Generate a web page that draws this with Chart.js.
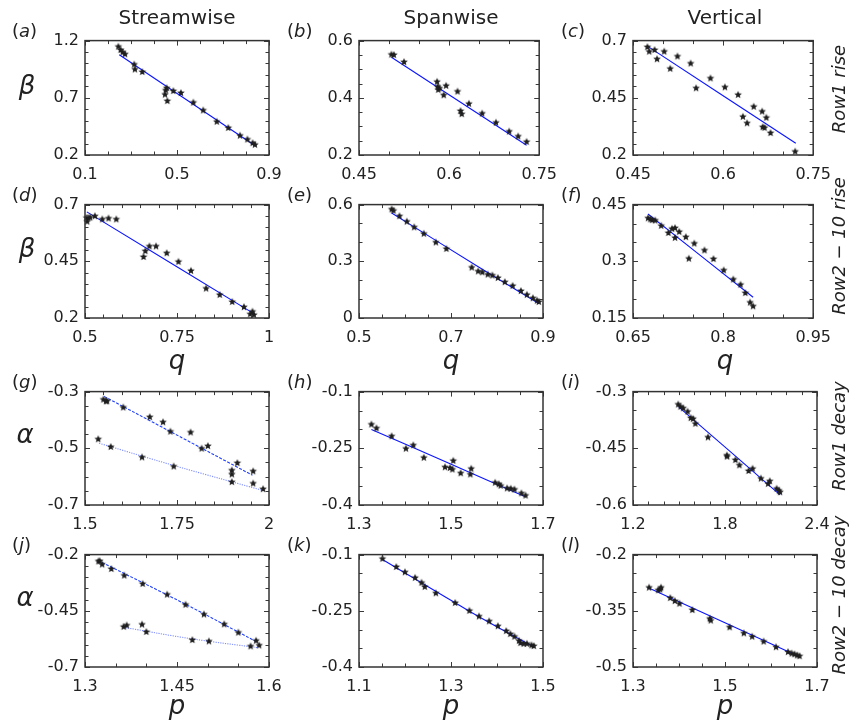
<!DOCTYPE html>
<html>
<head>
<meta charset="utf-8">
<script src="https://cdn.jsdelivr.net/npm/chart.js@4.4.1/dist/chart.umd.min.js"></script>
<style>
  body { margin: 0; background: #fff; }
  #fig { position: relative; width: 850px; height: 724px; font-family: 'DejaVu Sans', sans-serif; color: #222; }
  #fig canvas { position: absolute; }
  .t { position: absolute; white-space: nowrap; line-height: 1; transform: translate(-50%, -50%); }
  .title { font-size: 20px; }
  .lab { font-size: 18px; transform: none; }
  .lab i { font-style: oblique; }
  .sym { font-size: 26px; font-style: oblique; }
  .row { font-size: 18px; font-style: oblique; transform: translate(-50%, -50%) rotate(-90deg); }
</style>
</head>
<body>
<div id="fig"></div>
<script>
// ---- data ----
// (a) streamwise, row1 rise
const aQ    = [0.245, 0.255, 0.264, 0.274, 0.314, 0.317, 0.349, 0.448, 0.451, 0.455, 0.458, 0.484, 0.517, 0.571, 0.614, 0.673, 0.723, 0.774, 0.806, 0.829, 0.839];
const aBeta = [1.147, 1.118, 1.098, 1.081, 0.991, 0.948, 0.926, 0.728, 0.765, 0.785, 0.672, 0.759, 0.742, 0.658, 0.590, 0.491, 0.437, 0.369, 0.336, 0.304, 0.290];
const aFitQ = [0.249, 0.843];
const aFitBeta = [1.076, 0.276];
const aXTicks = [0.1, 0.5, 0.9];
const aYTicks = [0.2, 0.7, 1.2];

// (b) spanwise, row1 rise
const bQ    = [0.504, 0.508, 0.525, 0.580, 0.581, 0.582, 0.584, 0.591, 0.595, 0.614, 0.619, 0.621, 0.633, 0.655, 0.678, 0.700, 0.715, 0.729];
const bBeta = [0.551, 0.550, 0.525, 0.456, 0.439, 0.428, 0.433, 0.409, 0.442, 0.422, 0.354, 0.343, 0.379, 0.345, 0.313, 0.282, 0.265, 0.246];
const bFitQ = [0.504, 0.729];
const bFitBeta = [0.542, 0.234];
const bXTicks = [0.45, 0.6, 0.75];
const bYTicks = [0.2, 0.4, 0.6];

// (c) vertical, row1 rise
const cQ    = [0.474, 0.477, 0.486, 0.490, 0.502, 0.512, 0.524, 0.546, 0.555, 0.579, 0.603, 0.625, 0.633, 0.640, 0.651, 0.665, 0.666, 0.669, 0.672, 0.679, 0.720];
const cBeta = [0.672, 0.652, 0.659, 0.619, 0.652, 0.577, 0.631, 0.600, 0.492, 0.535, 0.496, 0.463, 0.367, 0.339, 0.411, 0.390, 0.322, 0.319, 0.363, 0.296, 0.215];
const cFitQ = [0.474, 0.721];
const cFitBeta = [0.676, 0.251];
const cXTicks = [0.45, 0.6, 0.75];
const cYTicks = [0.2, 0.45, 0.7];

// (d) streamwise, row2-10 rise
const dQ    = [0.504, 0.506, 0.509, 0.514, 0.527, 0.547, 0.564, 0.585, 0.659, 0.664, 0.675, 0.693, 0.722, 0.754, 0.788, 0.829, 0.866, 0.900, 0.932, 0.949, 0.955, 0.959];
const dBeta = [0.642, 0.625, 0.642, 0.643, 0.649, 0.635, 0.639, 0.635, 0.469, 0.495, 0.516, 0.516, 0.486, 0.448, 0.408, 0.330, 0.302, 0.271, 0.248, 0.217, 0.228, 0.214];
const dFitQ = [0.505, 0.961];
const dFitBeta = [0.668, 0.217];
const dXTicks = [0.5, 0.75, 1];
const dYTicks = [0.2, 0.45, 0.7];

// (e) spanwise, row2-10 rise
const eQ    = [0.571, 0.575, 0.588, 0.604, 0.620, 0.641, 0.667, 0.690, 0.745, 0.759, 0.768, 0.780, 0.790, 0.802, 0.817, 0.834, 0.852, 0.865, 0.878, 0.887, 0.891];
const eBeta = [0.575, 0.568, 0.539, 0.510, 0.480, 0.446, 0.400, 0.366, 0.267, 0.247, 0.242, 0.230, 0.225, 0.212, 0.190, 0.170, 0.143, 0.123, 0.105, 0.092, 0.085];
const eFitQ = [0.571, 0.768, 0.891];
const eFitBeta = [0.556, 0.258, 0.077];
const eXTicks = [0.5, 0.7, 0.9];
const eYTicks = [0, 0.3, 0.6];

// (f) vertical, row2-10 rise
const fQ    = [0.675, 0.679, 0.682, 0.687, 0.697, 0.709, 0.715, 0.720, 0.720, 0.727, 0.738, 0.743, 0.752, 0.769, 0.784, 0.801, 0.817, 0.829, 0.837, 0.845, 0.850];
const fBeta = [0.414, 0.411, 0.409, 0.408, 0.394, 0.375, 0.386, 0.388, 0.362, 0.378, 0.364, 0.307, 0.347, 0.329, 0.306, 0.276, 0.252, 0.238, 0.216, 0.191, 0.181];
const fFitQ = [0.675, 0.850];
const fFitBeta = [0.425, 0.205];
const fXTicks = [0.65, 0.8, 0.95];
const fYTicks = [0.15, 0.3, 0.45];

// (g) streamwise, row1 decay (two groups)
const gP1     = [1.550, 1.557, 1.560, 1.604, 1.676, 1.712, 1.732, 1.787, 1.817, 1.834, 1.914, 1.899, 1.899, 1.957];
const gAlpha1 = [-0.328, -0.334, -0.334, -0.356, -0.390, -0.408, -0.441, -0.444, -0.501, -0.492, -0.552, -0.578, -0.592, -0.581];
const gP2     = [1.536, 1.570, 1.655, 1.741, 1.899, 1.957, 1.984];
const gAlpha2 = [-0.468, -0.495, -0.532, -0.564, -0.619, -0.624, -0.644];
const gFitP1 = [1.552, 1.732, 1.955];
const gFitAlpha1 = [-0.317, -0.441, -0.595];
const gFitP2 = [1.538, 1.745, 1.984];
const gFitAlpha2 = [-0.482, -0.562, -0.649];
const gXTicks = [1.5, 1.75, 2];
const gYTicks = [-0.7, -0.5, -0.3];

// (h) spanwise, row1 decay
const hP     = [1.327, 1.338, 1.371, 1.402, 1.418, 1.441, 1.487, 1.498, 1.503, 1.505, 1.521, 1.542, 1.544, 1.596, 1.604, 1.608, 1.622, 1.630, 1.638, 1.653, 1.662];
const hAlpha = [-0.187, -0.197, -0.218, -0.251, -0.242, -0.275, -0.300, -0.302, -0.306, -0.283, -0.316, -0.319, -0.304, -0.341, -0.345, -0.349, -0.356, -0.357, -0.359, -0.369, -0.375];
const hFitP = [1.327, 1.498, 1.663];
const hFitAlpha = [-0.200, -0.291, -0.379];
const hXTicks = [1.3, 1.5, 1.7];
const hYTicks = [-0.4, -0.25, -0.1];

// (i) vertical, row1 decay
const iP     = [1.495, 1.510, 1.527, 1.556, 1.577, 1.592, 1.607, 1.689, 1.812, 1.814, 1.868, 1.894, 1.954, 1.980, 2.034, 2.081, 2.092, 2.137, 2.152, 2.159];
const iAlpha = [-0.334, -0.340, -0.344, -0.353, -0.370, -0.372, -0.385, -0.421, -0.469, -0.472, -0.481, -0.495, -0.510, -0.504, -0.530, -0.544, -0.537, -0.557, -0.562, -0.566];
const iFitP = [1.499, 2.159];
const iFitAlpha = [-0.341, -0.573];
const iXTicks = [1.2, 1.8, 2.4];
const iYTicks = [-0.6, -0.45, -0.3];

// (j) streamwise, row2-10 decay (two groups)
const jP1     = [1.322, 1.324, 1.328, 1.343, 1.364, 1.394, 1.434, 1.464, 1.494, 1.527, 1.550, 1.579];
const jAlpha1 = [-0.230, -0.229, -0.244, -0.264, -0.293, -0.330, -0.378, -0.423, -0.466, -0.510, -0.547, -0.583];
const jP2     = [1.363, 1.368, 1.393, 1.400, 1.475, 1.502, 1.570, 1.584];
const jAlpha2 = [-0.521, -0.515, -0.511, -0.544, -0.580, -0.586, -0.608, -0.604];
const jFitP1 = [1.321, 1.464, 1.579];
const jFitAlpha1 = [-0.226, -0.421, -0.587];
const jFitP2 = [1.362, 1.475, 1.582];
const jFitAlpha2 = [-0.523, -0.575, -0.614];
const jXTicks = [1.3, 1.45, 1.6];
const jYTicks = [-0.7, -0.45, -0.2];

// (k) spanwise, row2-10 decay
const kP     = [1.151, 1.181, 1.200, 1.222, 1.236, 1.243, 1.267, 1.309, 1.340, 1.361, 1.383, 1.402, 1.420, 1.429, 1.438, 1.448, 1.451, 1.458, 1.465, 1.475, 1.480];
const kAlpha = [-0.111, -0.133, -0.147, -0.162, -0.175, -0.186, -0.203, -0.229, -0.250, -0.265, -0.278, -0.291, -0.304, -0.312, -0.319, -0.330, -0.336, -0.338, -0.338, -0.342, -0.344];
const kFitP = [1.151, 1.340, 1.480];
const kFitAlpha = [-0.113, -0.251, -0.347];
const kXTicks = [1.1, 1.3, 1.5];
const kYTicks = [-0.4, -0.25, -0.1];

// (l) vertical, row2-10 decay
const lP     = [1.335, 1.355, 1.359, 1.361, 1.381, 1.391, 1.401, 1.429, 1.467, 1.469, 1.510, 1.541, 1.559, 1.584, 1.611, 1.637, 1.645, 1.651, 1.657, 1.662];
const lAlpha = [-0.288, -0.295, -0.293, -0.288, -0.316, -0.324, -0.331, -0.348, -0.371, -0.376, -0.394, -0.410, -0.419, -0.432, -0.447, -0.460, -0.464, -0.466, -0.469, -0.471];
const lFitP = [1.332, 1.663];
const lFitAlpha = [-0.288, -0.473];
const lXTicks = [1.3, 1.5, 1.7];
const lYTicks = [-0.5, -0.35, -0.2];

const columnTitles = ['Streamwise', 'Spanwise', 'Vertical'];
const rowTitles = ['Row1 rise', 'Row2 \u2212 10 rise', 'Row1 decay', 'Row2 \u2212 10 decay'];

// ---- layout ----
const colLeft = [85, 359, 633];
const rowTop = [37, 201, 388, 551];
const rowH = [118, 117, 117, 116];
const plotW = 184;
const AXW = 60, AXH = 32, PADT = 12, PADR = 24;

const panels = [
  { tag: 'a', r: 0, c: 0, x: [0.1, 0.9, 0.1], y: [0.2, 1.2, 0.1], xt: aXTicks, yt: aYTicks, pts: [[aQ, aBeta]], fits: [[aFitQ, aFitBeta, 'solid']] },
  { tag: 'b', r: 0, c: 1, x: [0.45, 0.75, 0.05], y: [0.2, 0.6, 0.05], xt: bXTicks, yt: bYTicks, pts: [[bQ, bBeta]], fits: [[bFitQ, bFitBeta, 'solid']] },
  { tag: 'c', r: 0, c: 2, x: [0.45, 0.75, 0.05], y: [0.2, 0.7, 0.05], xt: cXTicks, yt: cYTicks, pts: [[cQ, cBeta]], fits: [[cFitQ, cFitBeta, 'solid']] },
  { tag: 'd', r: 1, c: 0, x: [0.5, 1, 0.05], y: [0.2, 0.7, 0.05], xt: dXTicks, yt: dYTicks, pts: [[dQ, dBeta]], fits: [[dFitQ, dFitBeta, 'solid']] },
  { tag: 'e', r: 1, c: 1, x: [0.5, 0.9, 0.05], y: [0, 0.6, 0.1], xt: eXTicks, yt: eYTicks, pts: [[eQ, eBeta]], fits: [[eFitQ, eFitBeta, 'solid']] },
  { tag: 'f', r: 1, c: 2, x: [0.65, 0.95, 0.05], y: [0.15, 0.45, 0.05], xt: fXTicks, yt: fYTicks, pts: [[fQ, fBeta]], fits: [[fFitQ, fFitBeta, 'solid']] },
  { tag: 'g', r: 2, c: 0, x: [1.5, 2, 0.05], y: [-0.7, -0.3, 0.05], xt: gXTicks, yt: gYTicks, pts: [[gP1, gAlpha1], [gP2, gAlpha2]], fits: [[gFitP1, gFitAlpha1, 'dash'], [gFitP2, gFitAlpha2, 'dot']] },
  { tag: 'h', r: 2, c: 1, x: [1.3, 1.7, 0.05], y: [-0.4, -0.1, 0.05], xt: hXTicks, yt: hYTicks, pts: [[hP, hAlpha]], fits: [[hFitP, hFitAlpha, 'solid']] },
  { tag: 'i', r: 2, c: 2, x: [1.2, 2.4, 0.1], y: [-0.6, -0.3, 0.05], xt: iXTicks, yt: iYTicks, pts: [[iP, iAlpha]], fits: [[iFitP, iFitAlpha, 'solid']] },
  { tag: 'j', r: 3, c: 0, x: [1.3, 1.6, 0.05], y: [-0.7, -0.2, 0.05], xt: jXTicks, yt: jYTicks, pts: [[jP1, jAlpha1], [jP2, jAlpha2]], fits: [[jFitP1, jFitAlpha1, 'dash'], [jFitP2, jFitAlpha2, 'dot']] },
  { tag: 'k', r: 3, c: 1, x: [1.1, 1.5, 0.05], y: [-0.4, -0.1, 0.05], xt: kXTicks, yt: kYTicks, pts: [[kP, kAlpha]], fits: [[kFitP, kFitAlpha, 'solid']] },
  { tag: 'l', r: 3, c: 2, x: [1.3, 1.7, 0.05], y: [-0.5, -0.2, 0.05], xt: lXTicks, yt: lYTicks, pts: [[lP, lAlpha]], fits: [[lFitP, lFitAlpha, 'solid']] },
];

const fig = document.getElementById('fig');

// filled five-point star used as the marker
function makeStar(r, color) {
  const c = document.createElement('canvas');
  c.width = c.height = 2 * r + 2;
  const g = c.getContext('2d');
  g.fillStyle = color;
  g.beginPath();
  for (let i = 0; i < 10; i++) {
    const rad = i % 2 ? r * 0.45 : r;
    const a = -Math.PI / 2 + i * Math.PI / 5;
    g.lineTo(r + 1 + rad * Math.cos(a), r + 1 + rad * Math.sin(a));
  }
  g.closePath();
  g.fill();
  return c;
}
const star = makeStar(4, '#1e1e1e');

// frame + inward ticks on all four sides
const boxTicks = {
  id: 'boxTicks',
  afterDraw(chart) {
    const { ctx, chartArea: a, scales } = chart;
    ctx.save();
    ctx.strokeStyle = '#3a3a3a';
    ctx.lineWidth = 1;
    ctx.beginPath();
    scales.x.ticks.forEach(t => {
      const px = Math.round(scales.x.getPixelForValue(t.value)) + 0.5;
      const len = t.label ? 5 : 3.5;
      ctx.moveTo(px, a.bottom); ctx.lineTo(px, a.bottom - len);
      ctx.moveTo(px, a.top); ctx.lineTo(px, a.top + len);
    });
    scales.y.ticks.forEach(t => {
      const py = Math.round(scales.y.getPixelForValue(t.value)) + 0.5;
      const len = t.label ? 5 : 3.5;
      ctx.moveTo(a.left, py); ctx.lineTo(a.left + len, py);
      ctx.moveTo(a.right, py); ctx.lineTo(a.right - len, py);
    });
    ctx.stroke();
    ctx.lineWidth = 1.5;
    ctx.strokeStyle = '#333';
    ctx.strokeRect(a.left, a.top, a.width, a.height);
    ctx.restore();
  }
};

function tickList(min, max, step) {
  const out = [];
  const n = Math.round((max - min) / step);
  for (let k = 0; k <= n; k++) out.push({ value: +(min + k * step).toFixed(6) });
  return out;
}

function axis(range, labels, isX) {
  return {
    type: 'linear',
    min: range[0],
    max: range[1],
    grid: { display: false, drawTicks: false },
    border: { display: false },
    afterBuildTicks: s => { s.ticks = tickList(range[0], range[1], range[2]); },
    afterFit: s => { if (isX) s.height = AXH; else s.width = AXW; },
    ticks: {
      autoSkip: false,
      maxRotation: 0,
      minRotation: 0,
      padding: isX ? 10 : 6,
      color: '#222',
      font: { family: 'DejaVu Sans', size: 16 },
      callback: v => {
        const m = labels.find(l => Math.abs(l - v) < 1e-6);
        return m === undefined ? '' : String(m);
      }
    }
  };
}

const fitStyle = {
  solid: { color: '#0a14ff', dash: [], width: 1.1 },
  dash:  { color: '#2040ff', dash: [3, 1.5], width: 1.1 },
  dot:   { color: '#7d8dff', dash: [1.2, 1.2], width: 1.1 },
};

panels.forEach(p => {
  const L = colLeft[p.c], T = rowTop[p.r], H = rowH[p.r];
  const cv = document.createElement('canvas');
  const w = AXW + plotW + PADR, h = PADT + H + AXH;
  cv.width = w; cv.height = h;
  cv.style.left = (L - AXW) + 'px';
  cv.style.top = (T - PADT) + 'px';
  cv.style.width = w + 'px';
  cv.style.height = h + 'px';
  fig.appendChild(cv);

  const datasets = [];
  p.fits.forEach(([xs, ys, st]) => {
    const s = fitStyle[st];
    datasets.push({
      type: 'line',
      data: xs.map((v, i) => ({ x: v, y: ys[i] })),
      borderColor: s.color,
      borderWidth: s.width,
      borderDash: s.dash,
      pointRadius: 0,
      fill: false,
      tension: 0.4,
      order: 1,
    });
  });
  p.pts.forEach(([xs, ys]) => {
    datasets.push({
      type: 'scatter',
      data: xs.map((v, i) => ({ x: v, y: ys[i] })),
      pointStyle: star,
      pointRadius: 4,
      clip: false,
      order: 0,
    });
  });

  new Chart(cv, {
    type: 'scatter',
    data: { datasets },
    options: {
      responsive: false,
      animation: false,
      devicePixelRatio: 1,
      layout: { padding: { left: 0, top: PADT, right: PADR, bottom: 0 } },
      plugins: { legend: { display: false }, tooltip: { enabled: false } },
      scales: { x: axis(p.x, p.xt, true), y: axis(p.y, p.yt, false) },
    },
    plugins: [boxTicks],
  });

  // panel tag like (a)
  const tg = document.createElement('div');
  tg.className = 't lab';
  tg.innerHTML = '(<i>' + p.tag + '</i>)';
  tg.style.left = (p.c === 0 ? 12 : L - 72) + 'px';
  tg.style.top = (T - 15) + 'px';
  fig.appendChild(tg);
});

function addText(cls, txt, x, y) {
  const d = document.createElement('div');
  d.className = 't ' + cls;
  d.textContent = txt;
  d.style.left = x + 'px';
  d.style.top = y + 'px';
  fig.appendChild(d);
}

columnTitles.forEach((s, c) => addText('title', s, colLeft[c] + plotW / 2, 17));
rowTitles.forEach((s, r) => addText('row', s, 839, [89, 246, 436, 595][r]));

// y symbols
addText('sym', '\u03b2', 27, 85);
addText('sym', '\u03b2', 27, 248);
addText('sym', '\u03b1', 25, 434);
addText('sym', '\u03b1', 25, 597);
// x symbols
colLeft.forEach(L => {
  addText('sym', 'q', L + plotW / 2, 360);
  addText('sym', 'p', L + plotW / 2, 705);
});
</script>
</body>
</html>
